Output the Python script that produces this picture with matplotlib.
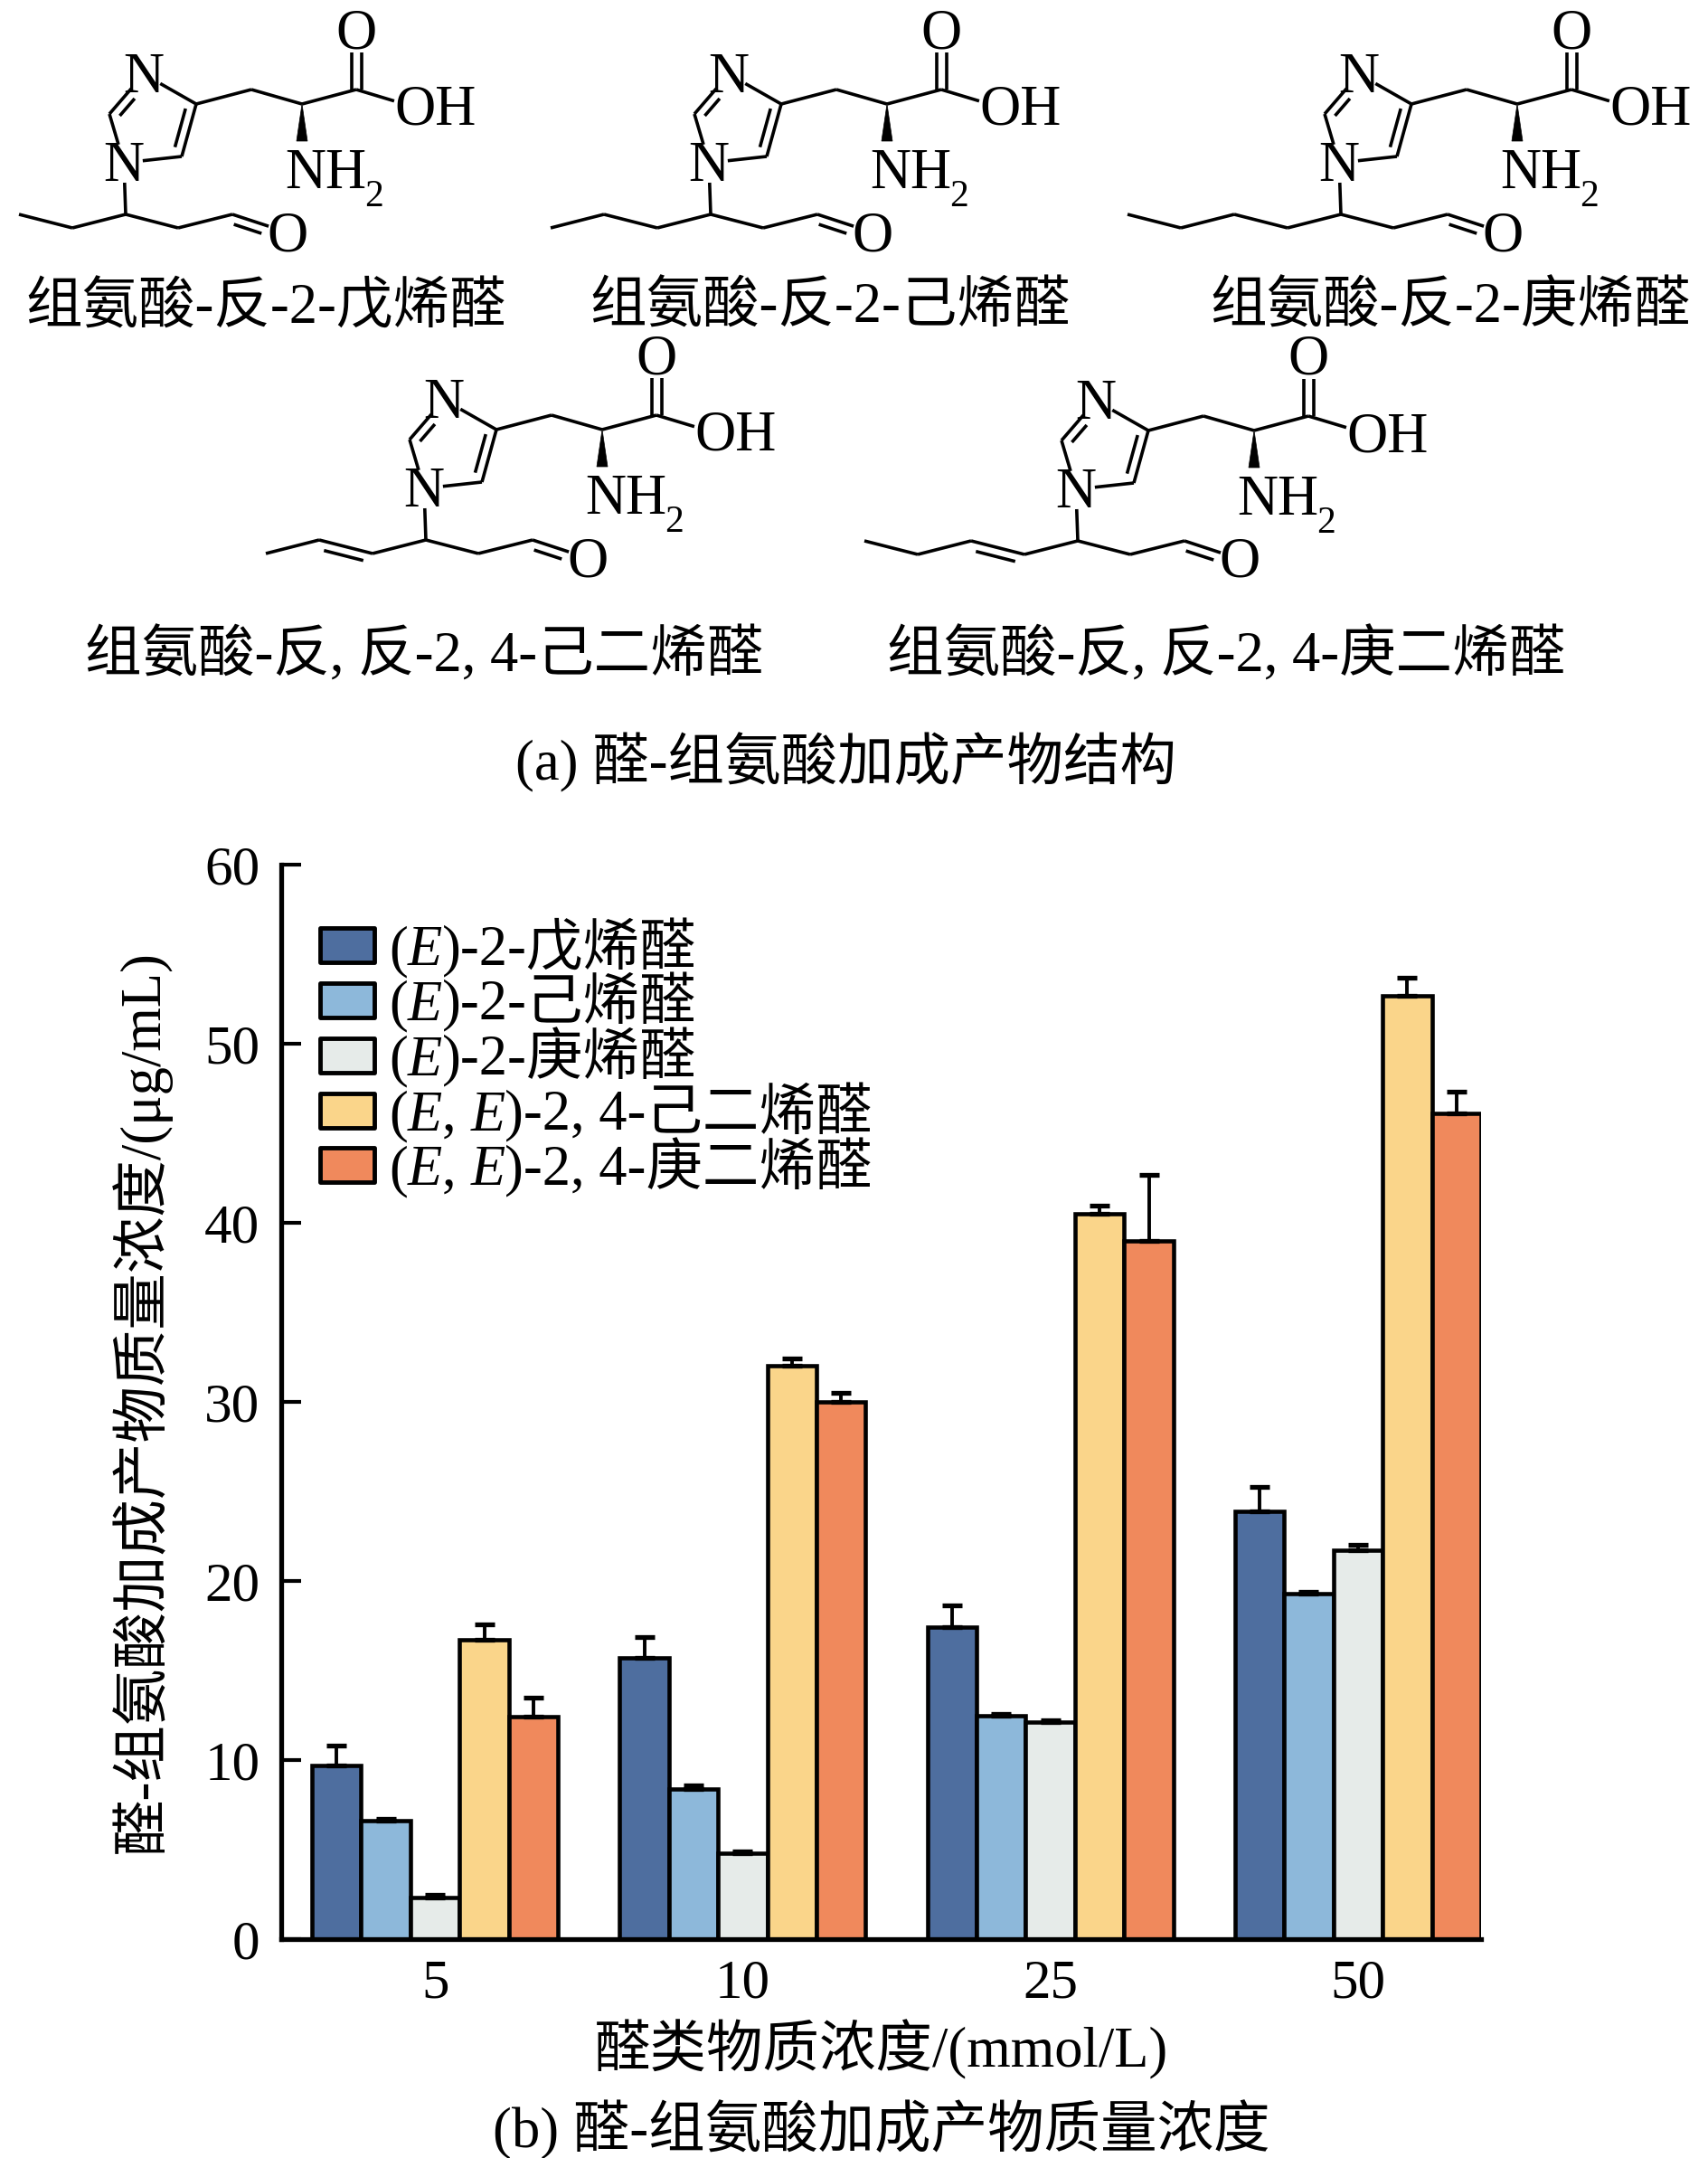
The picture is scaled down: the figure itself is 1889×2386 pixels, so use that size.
#醛-组氨酸加成产物：结构式 + 质量浓度柱状图
import numpy as np
import matplotlib.pyplot as plt
from matplotlib.patches import Rectangle, Polygon
from matplotlib.transforms import IdentityTransform

plt.rcParams['font.family'] = ['Liberation Serif', 'Noto Sans CJK SC']

# ---- data ----
conc = ['5', '10', '25', '50']
aldehydes = ['(E)-2-戊烯醛', '(E)-2-己烯醛', '(E)-2-庚烯醛',
             '(E, E)-2, 4-己二烯醛', '(E, E)-2, 4-庚二烯醛']
pentenal = [9.7, 15.7, 17.4, 23.9]
hexenal = [6.6, 8.4, 12.5, 19.3]
heptenal = [2.3, 4.8, 12.1, 21.7]
hexadienal = [16.7, 32.0, 40.5, 52.7]
heptadienal = [12.4, 30.0, 39.0, 46.1]
pentenal_sd = [1.1, 1.15, 1.25, 1.35]
hexenal_sd = [0.1, 0.2, 0.1, 0.1]
heptenal_sd = [0.15, 0.1, 0.1, 0.3]
hexadienal_sd = [0.9, 0.4, 0.45, 1.0]
heptadienal_sd = [1.1, 0.5, 3.7, 1.2]
colors = ['#4e6e9f', '#8db8da', '#e6ebe9', '#fad58a', '#f0895c']

products = ['组氨酸-反-2-戊烯醛', '组氨酸-反-2-己烯醛', '组氨酸-反-2-庚烯醛',
            '组氨酸-反, 反-2, 4-己二烯醛', '组氨酸-反, 反-2, 4-庚二烯醛']
tail_len = [2, 3, 4, 3, 4]
tail_diene = [False, False, False, True, True]

W, H = 1890, 2386
fig = plt.figure(figsize=(W / 100, H / 100), dpi=100)

# ---- (a) structures, drawn in pixel space ----
top = fig.add_axes([0, 0, 1, 1])
top.set_xlim(0, W)
top.set_ylim(H, 0)
top.axis('off')

LW = 2.6
FS = 45


def line(p, q, cut0=0.0, cut1=0.0, off=0.0, shrink=0.0):
    p = np.asarray(p, float)
    q = np.asarray(q, float)
    d = q - p
    L = np.hypot(*d)
    u = d / L
    n = np.array([-u[1], u[0]])
    a = p + u * (cut0 + shrink) + n * off
    b = q - u * (cut1 + shrink) + n * off
    top.plot([a[0], b[0]], [a[1], b[1]], color='k', lw=LW, solid_capstyle='butt')


def second_line(p, q, toward, gap=10, shrink=8, cut0=0.0, cut1=0.0):
    p = np.asarray(p, float)
    q = np.asarray(q, float)
    u = (q - p) / np.hypot(*(q - p))
    n = np.array([-u[1], u[0]])
    s = 1 if np.dot(n, np.asarray(toward) - (p + q) / 2) > 0 else -1
    line(p, q, cut0, cut1, off=s * gap, shrink=shrink)


def atom(x, y, s, size=FS, ha='center'):
    top.text(x, y + 20, s, fontsize=size, ha=ha, va='baseline',
             family='Liberation Serif')


def draw_structure(x0, y0, n_tail, diene):
    P = lambda dx, dy: np.array([x0 + dx, y0 + dy], float)
    N1, C2, N3, C4, C5 = P(0, 0), P(-16, -54), P(22, -98), P(80, -65), P(64, -7)
    ctr = (N1 + C2 + N3 + C4 + C5) / 5
    line(N1, C2, cut0=21)
    line(C2, N3, cut1=21)
    second_line(C2, N3, ctr, gap=10, shrink=6, cut1=21)
    line(N3, C4, cut0=21)
    line(C4, C5)
    second_line(C4, C5, ctr, gap=10, shrink=8)
    line(C5, N1, cut1=21)
    atom(*N1, 'N')
    atom(*N3, 'N')
    # histidine side chain
    CH2, CA, CC = P(141, -81), P(197, -65), P(257, -81)
    line(C4, CH2)
    line(CH2, CA)
    line(CA, CC)
    O1 = P(257, -147)
    line(CC, O1, cut1=25, off=5.5)
    line(CC, O1, cut1=25, off=-5.5)
    atom(*O1, 'O')
    OH = P(320, -62)
    line(CC, OH, cut1=22)
    atom(OH[0] - 21, OH[1], 'OH', ha='left')
    wedge = Polygon([CA, CA + [-6, 41], CA + [6, 41]], closed=True,
                    facecolor='k', edgecolor='k', lw=0.5)
    top.add_patch(wedge)
    atom(x0 + 178, y0 + 8, 'NH', ha='left')
    top.text(x0 + 266, y0 + 48, '2', fontsize=30, ha='left', va='baseline',
             family='Liberation Serif')
    # aldehyde adduct chain
    C3 = P(2, 57)
    line(N1, C3, cut0=22)
    prev = C3
    for k in range(n_tail):
        nxt = prev + np.array([-59, 15 if k % 2 == 0 else -15])
        line(prev, nxt)
        if diene and k == 1:
            second_line(prev, nxt, (prev + nxt) / 2 + [0, 50], gap=10, shrink=8)
        prev = nxt
    R1 = C3 + np.array([58, 15])
    R2 = R1 + np.array([60, -15])
    O2 = R2 + np.array([61, 20])
    line(C3, R1)
    line(R1, R2)
    line(R2, O2, cut1=22)
    second_line(R2, O2, O2 + [-20, 40], gap=10, shrink=5, cut1=22)
    atom(*O2, 'O')


struct_xy = [(137, 180), (784, 180), (1481, 180), (469, 540), (1190, 541)]
name_xy = [(294, 342), (918, 342), (1604, 342), (469, 726), (1356, 726)]
for (sx, sy), n, dn, (nx, ny), nm in zip(struct_xy, tail_len, tail_diene, name_xy, products):
    draw_structure(sx, sy, n, dn)
    top.text(nx, ny, nm, fontsize=FS, ha='center', va='center')

top.text(935, 843, '(a) 醛-组氨酸加成产物结构', fontsize=FS, ha='center', va='center')

# ---- (b) bar chart ----
ax_l, ax_r, ax_t, ax_b = 311, 1638, 956, 2144
ax = fig.add_axes([ax_l / W, 1 - ax_b / H, (ax_r - ax_l) / W, (ax_b - ax_t) / H])

series = [pentenal, hexenal, heptenal, hexadienal, heptadienal]
errs = [pentenal_sd, hexenal_sd, heptenal_sd, hexadienal_sd, heptadienal_sd]
x = np.arange(len(conc))
w = 0.16
for i, (vals, e, c) in enumerate(zip(series, errs, colors)):
    pos = x + (i - 2) * w
    ax.bar(pos, vals, w, color=c, edgecolor='k', linewidth=3.3, zorder=2)
    ax.errorbar(pos, vals, yerr=[np.zeros(len(vals)), e], fmt='none', ecolor='k',
                elinewidth=2.8, capsize=8, capthick=3.8, zorder=3)

ax.set_xlim(-0.5, 3.4)
ax.set_ylim(0, 60)
ax.set_yticks(np.arange(0, 61, 10))
ax.set_xticks(x)
ax.set_xticklabels(conc)
for s in ['top', 'right']:
    ax.spines[s].set_visible(False)
for s in ['left', 'bottom']:
    ax.spines[s].set_linewidth(3.8)
ax.tick_params(axis='y', direction='in', length=16, width=3, pad=17, labelsize=44)
ax.tick_params(axis='x', length=0, pad=16, labelsize=44)

ax.set_ylabel('醛-组氨酸加成产物质量浓度/(μg/mL)', fontsize=FS, va='center')
ax.yaxis.set_label_coords((155 - ax_l) / (ax_r - ax_l), 0.5)
ax.set_xlabel('醛类物质浓度/(mmol/L)', fontsize=FS, va='center')
ax.xaxis.set_label_coords(0.5, (ax_b - 2266) / (ax_b - ax_t))
fig.text(975 / W, 1 - 2355 / H, '(b) 醛-组氨酸加成产物质量浓度', fontsize=FS,
         ha='center', va='center')

# legend (drawn by hand so the E's can be italic)
renderer = fig.canvas.get_renderer()


def rich_text(xd, yd, s, size):
    runs = []
    for ch in s:
        it = ch == 'E'
        if runs and runs[-1][1] == it:
            runs[-1][0] += ch
        else:
            runs.append([ch, it])
    for txt, it in runs:
        t = fig.text(xd, yd, txt, transform=IdentityTransform(), fontsize=size,
                     style='italic' if it else 'normal', ha='left', va='baseline')
        xd = t.get_window_extent(renderer).x1


row_y = 0.925 - 0.0512 * np.arange(len(aldehydes))
for yy, lab, c in zip(row_y, aldehydes, colors):
    ax.add_patch(Rectangle((0.0324, yy - 0.016), 0.0452, 0.032, transform=ax.transAxes,
                           facecolor=c, edgecolor='k', lw=3.5, joinstyle='round',
                           clip_on=False, zorder=4))
    xd, yd = ax.transAxes.transform((0.0897, yy))
    rich_text(xd, yd - 22, lab, FS)

fig.savefig('out.png', dpi=100)
